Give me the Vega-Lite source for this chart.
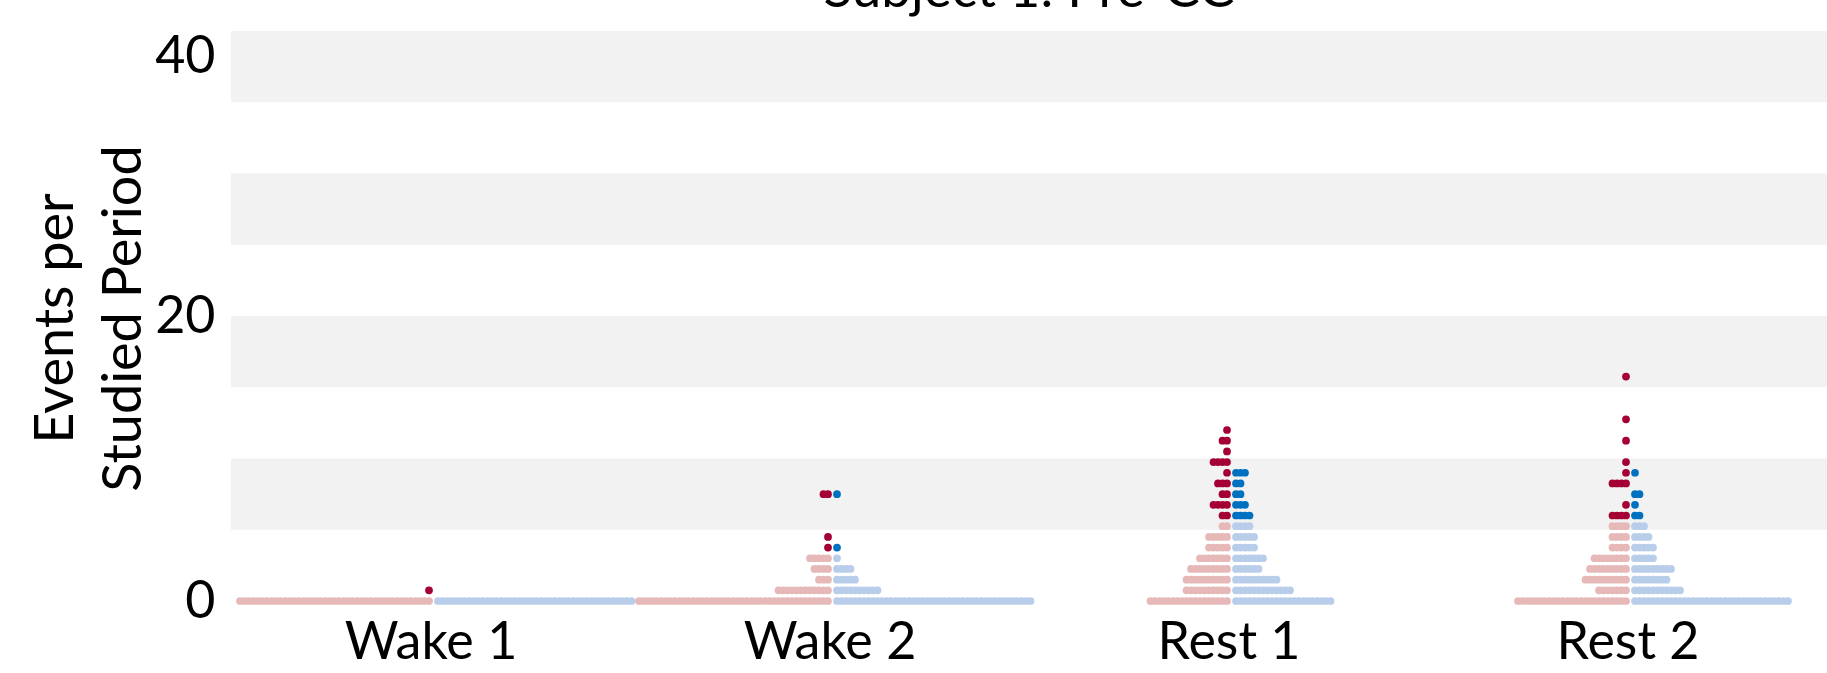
{
"$schema": "https://vega.github.io/schema/vega-lite/v6.json",
"width": 1596, "height": 570,
"autosize": {"type": "none"},
"padding": {"left": 231, "top": 31, "right": 0, "bottom": 72},
"background": "white",
"config": {"view": {"stroke": null}, "font": "Lato",
"axisX": {"domain": false, "ticks": false, "grid": false, "labelAngle": 0, "labelFont": "Lato", "labelFontSize": 52, "labelColor": "black", "labelPadding": 16, "title": null},
"axisY": {"domain": false, "ticks": false, "grid": false, "labelFont": "Lato", "labelFontSize": 52, "labelColor": "black", "labelPadding": 16}},
"title": {"text": "Subject 1: Pre-CC", "font": "Lato", "fontSize": 53, "fontWeight": "normal", "color": "black", "baseline": "alphabetic", "offset": 0, "dy": 30, "anchor": "middle", "frame": "group"},
"datasets": {
"left": [
{"c":"Wake 1","v":0},{"c":"Wake 1","v":0},{"c":"Wake 1","v":0},{"c":"Wake 1","v":0},{"c":"Wake 1","v":0},{"c":"Wake 1","v":0},{"c":"Wake 1","v":0},{"c":"Wake 1","v":0},{"c":"Wake 1","v":0},{"c":"Wake 1","v":0},
{"c":"Wake 1","v":0},{"c":"Wake 1","v":0},{"c":"Wake 1","v":0},{"c":"Wake 1","v":0},{"c":"Wake 1","v":0},{"c":"Wake 1","v":0},{"c":"Wake 1","v":0},{"c":"Wake 1","v":0},{"c":"Wake 1","v":0},{"c":"Wake 1","v":0},
{"c":"Wake 1","v":0},{"c":"Wake 1","v":0},{"c":"Wake 1","v":0},{"c":"Wake 1","v":0},{"c":"Wake 1","v":0},{"c":"Wake 1","v":0},{"c":"Wake 1","v":0},{"c":"Wake 1","v":0},{"c":"Wake 1","v":0},{"c":"Wake 1","v":0},
{"c":"Wake 1","v":0},{"c":"Wake 1","v":0},{"c":"Wake 1","v":0},{"c":"Wake 1","v":0},{"c":"Wake 1","v":0},{"c":"Wake 1","v":0},{"c":"Wake 1","v":0},{"c":"Wake 1","v":0},{"c":"Wake 1","v":0},{"c":"Wake 1","v":0},
{"c":"Wake 1","v":0},{"c":"Wake 1","v":0},{"c":"Wake 1","v":0},
{"c":"Wake 1","v":0.75,"t":1},
{"c":"Wake 2","v":0},{"c":"Wake 2","v":0},{"c":"Wake 2","v":0},{"c":"Wake 2","v":0},{"c":"Wake 2","v":0},{"c":"Wake 2","v":0},{"c":"Wake 2","v":0},{"c":"Wake 2","v":0},{"c":"Wake 2","v":0},{"c":"Wake 2","v":0},
{"c":"Wake 2","v":0},{"c":"Wake 2","v":0},{"c":"Wake 2","v":0},{"c":"Wake 2","v":0},{"c":"Wake 2","v":0},{"c":"Wake 2","v":0},{"c":"Wake 2","v":0},{"c":"Wake 2","v":0},{"c":"Wake 2","v":0},{"c":"Wake 2","v":0},
{"c":"Wake 2","v":0},{"c":"Wake 2","v":0},{"c":"Wake 2","v":0},{"c":"Wake 2","v":0},{"c":"Wake 2","v":0},{"c":"Wake 2","v":0},{"c":"Wake 2","v":0},{"c":"Wake 2","v":0},{"c":"Wake 2","v":0},{"c":"Wake 2","v":0},
{"c":"Wake 2","v":0},{"c":"Wake 2","v":0},{"c":"Wake 2","v":0},{"c":"Wake 2","v":0},{"c":"Wake 2","v":0},{"c":"Wake 2","v":0},{"c":"Wake 2","v":0},{"c":"Wake 2","v":0},{"c":"Wake 2","v":0},{"c":"Wake 2","v":0},
{"c":"Wake 2","v":0},{"c":"Wake 2","v":0},{"c":"Wake 2","v":0},
{"c":"Wake 2","v":0.75},{"c":"Wake 2","v":0.75},{"c":"Wake 2","v":0.75},{"c":"Wake 2","v":0.75},{"c":"Wake 2","v":0.75},{"c":"Wake 2","v":0.75},{"c":"Wake 2","v":0.75},{"c":"Wake 2","v":0.75},{"c":"Wake 2","v":0.75},{"c":"Wake 2","v":0.75},{"c":"Wake 2","v":0.75},{"c":"Wake 2","v":0.75},
{"c":"Wake 2","v":1.5},{"c":"Wake 2","v":1.5},{"c":"Wake 2","v":1.5},
{"c":"Wake 2","v":2.25},{"c":"Wake 2","v":2.25},{"c":"Wake 2","v":2.25},{"c":"Wake 2","v":2.25},
{"c":"Wake 2","v":3},{"c":"Wake 2","v":3},{"c":"Wake 2","v":3},{"c":"Wake 2","v":3},{"c":"Wake 2","v":3},
{"c":"Wake 2","v":3.75,"t":1},{"c":"Wake 2","v":4.5,"t":1},{"c":"Wake 2","v":7.5,"t":1},{"c":"Wake 2","v":7.5,"t":1},
{"c":"Rest 1","v":0},{"c":"Rest 1","v":0},{"c":"Rest 1","v":0},{"c":"Rest 1","v":0},{"c":"Rest 1","v":0},{"c":"Rest 1","v":0},{"c":"Rest 1","v":0},{"c":"Rest 1","v":0},{"c":"Rest 1","v":0},{"c":"Rest 1","v":0},
{"c":"Rest 1","v":0},{"c":"Rest 1","v":0},{"c":"Rest 1","v":0},{"c":"Rest 1","v":0},{"c":"Rest 1","v":0},{"c":"Rest 1","v":0},{"c":"Rest 1","v":0},{"c":"Rest 1","v":0},
{"c":"Rest 1","v":0.75},{"c":"Rest 1","v":0.75},{"c":"Rest 1","v":0.75},{"c":"Rest 1","v":0.75},{"c":"Rest 1","v":0.75},{"c":"Rest 1","v":0.75},{"c":"Rest 1","v":0.75},{"c":"Rest 1","v":0.75},{"c":"Rest 1","v":0.75},{"c":"Rest 1","v":0.75},
{"c":"Rest 1","v":1.5},{"c":"Rest 1","v":1.5},{"c":"Rest 1","v":1.5},{"c":"Rest 1","v":1.5},{"c":"Rest 1","v":1.5},{"c":"Rest 1","v":1.5},{"c":"Rest 1","v":1.5},{"c":"Rest 1","v":1.5},{"c":"Rest 1","v":1.5},{"c":"Rest 1","v":1.5},
{"c":"Rest 1","v":2.25},{"c":"Rest 1","v":2.25},{"c":"Rest 1","v":2.25},{"c":"Rest 1","v":2.25},{"c":"Rest 1","v":2.25},{"c":"Rest 1","v":2.25},{"c":"Rest 1","v":2.25},{"c":"Rest 1","v":2.25},{"c":"Rest 1","v":2.25},
{"c":"Rest 1","v":3},{"c":"Rest 1","v":3},{"c":"Rest 1","v":3},{"c":"Rest 1","v":3},{"c":"Rest 1","v":3},{"c":"Rest 1","v":3},{"c":"Rest 1","v":3},
{"c":"Rest 1","v":3.75},{"c":"Rest 1","v":3.75},{"c":"Rest 1","v":3.75},{"c":"Rest 1","v":3.75},{"c":"Rest 1","v":3.75},
{"c":"Rest 1","v":4.5},{"c":"Rest 1","v":4.5},{"c":"Rest 1","v":4.5},{"c":"Rest 1","v":4.5},{"c":"Rest 1","v":4.5},
{"c":"Rest 1","v":5.25},{"c":"Rest 1","v":5.25},
{"c":"Rest 1","v":6,"t":1},{"c":"Rest 1","v":6,"t":1},
{"c":"Rest 1","v":6.75,"t":1},{"c":"Rest 1","v":6.75,"t":1},{"c":"Rest 1","v":6.75,"t":1},{"c":"Rest 1","v":6.75,"t":1},
{"c":"Rest 1","v":7.5,"t":1},{"c":"Rest 1","v":7.5,"t":1},
{"c":"Rest 1","v":8.25,"t":1},{"c":"Rest 1","v":8.25,"t":1},{"c":"Rest 1","v":8.25,"t":1},
{"c":"Rest 1","v":9,"t":1},
{"c":"Rest 1","v":9.75,"t":1},{"c":"Rest 1","v":9.75,"t":1},{"c":"Rest 1","v":9.75,"t":1},{"c":"Rest 1","v":9.75,"t":1},
{"c":"Rest 1","v":10.5,"t":1},
{"c":"Rest 1","v":11.25,"t":1},{"c":"Rest 1","v":11.25,"t":1},
{"c":"Rest 1","v":12,"t":1},
{"c":"Rest 2","v":0},{"c":"Rest 2","v":0},{"c":"Rest 2","v":0},{"c":"Rest 2","v":0},{"c":"Rest 2","v":0},{"c":"Rest 2","v":0},{"c":"Rest 2","v":0},{"c":"Rest 2","v":0},{"c":"Rest 2","v":0},{"c":"Rest 2","v":0},
{"c":"Rest 2","v":0},{"c":"Rest 2","v":0},{"c":"Rest 2","v":0},{"c":"Rest 2","v":0},{"c":"Rest 2","v":0},{"c":"Rest 2","v":0},{"c":"Rest 2","v":0},{"c":"Rest 2","v":0},{"c":"Rest 2","v":0},{"c":"Rest 2","v":0},
{"c":"Rest 2","v":0},{"c":"Rest 2","v":0},{"c":"Rest 2","v":0},{"c":"Rest 2","v":0},{"c":"Rest 2","v":0},
{"c":"Rest 2","v":0.75},{"c":"Rest 2","v":0.75},{"c":"Rest 2","v":0.75},{"c":"Rest 2","v":0.75},{"c":"Rest 2","v":0.75},{"c":"Rest 2","v":0.75},{"c":"Rest 2","v":0.75},
{"c":"Rest 2","v":1.5},{"c":"Rest 2","v":1.5},{"c":"Rest 2","v":1.5},{"c":"Rest 2","v":1.5},{"c":"Rest 2","v":1.5},{"c":"Rest 2","v":1.5},{"c":"Rest 2","v":1.5},{"c":"Rest 2","v":1.5},{"c":"Rest 2","v":1.5},{"c":"Rest 2","v":1.5},
{"c":"Rest 2","v":2.25},{"c":"Rest 2","v":2.25},{"c":"Rest 2","v":2.25},{"c":"Rest 2","v":2.25},{"c":"Rest 2","v":2.25},{"c":"Rest 2","v":2.25},{"c":"Rest 2","v":2.25},{"c":"Rest 2","v":2.25},{"c":"Rest 2","v":2.25},
{"c":"Rest 2","v":3},{"c":"Rest 2","v":3},{"c":"Rest 2","v":3},{"c":"Rest 2","v":3},{"c":"Rest 2","v":3},{"c":"Rest 2","v":3},{"c":"Rest 2","v":3},{"c":"Rest 2","v":3},
{"c":"Rest 2","v":3.75},{"c":"Rest 2","v":3.75},{"c":"Rest 2","v":3.75},{"c":"Rest 2","v":3.75},
{"c":"Rest 2","v":4.5},{"c":"Rest 2","v":4.5},{"c":"Rest 2","v":4.5},{"c":"Rest 2","v":4.5},
{"c":"Rest 2","v":5.25},{"c":"Rest 2","v":5.25},{"c":"Rest 2","v":5.25},{"c":"Rest 2","v":5.25},
{"c":"Rest 2","v":6,"t":1},{"c":"Rest 2","v":6,"t":1},{"c":"Rest 2","v":6,"t":1},{"c":"Rest 2","v":6,"t":1},
{"c":"Rest 2","v":6.75,"t":1},
{"c":"Rest 2","v":8.25,"t":1},{"c":"Rest 2","v":8.25,"t":1},{"c":"Rest 2","v":8.25,"t":1},{"c":"Rest 2","v":8.25,"t":1},
{"c":"Rest 2","v":9,"t":1},{"c":"Rest 2","v":9.75,"t":1},{"c":"Rest 2","v":11.25,"t":1},{"c":"Rest 2","v":12.75,"t":1},{"c":"Rest 2","v":15.75,"t":1}
],
"right": [
{"c":"Wake 1","v":0},{"c":"Wake 1","v":0},{"c":"Wake 1","v":0},{"c":"Wake 1","v":0},{"c":"Wake 1","v":0},{"c":"Wake 1","v":0},{"c":"Wake 1","v":0},{"c":"Wake 1","v":0},{"c":"Wake 1","v":0},{"c":"Wake 1","v":0},
{"c":"Wake 1","v":0},{"c":"Wake 1","v":0},{"c":"Wake 1","v":0},{"c":"Wake 1","v":0},{"c":"Wake 1","v":0},{"c":"Wake 1","v":0},{"c":"Wake 1","v":0},{"c":"Wake 1","v":0},{"c":"Wake 1","v":0},{"c":"Wake 1","v":0},
{"c":"Wake 1","v":0},{"c":"Wake 1","v":0},{"c":"Wake 1","v":0},{"c":"Wake 1","v":0},{"c":"Wake 1","v":0},{"c":"Wake 1","v":0},{"c":"Wake 1","v":0},{"c":"Wake 1","v":0},{"c":"Wake 1","v":0},{"c":"Wake 1","v":0},
{"c":"Wake 1","v":0},{"c":"Wake 1","v":0},{"c":"Wake 1","v":0},{"c":"Wake 1","v":0},{"c":"Wake 1","v":0},{"c":"Wake 1","v":0},{"c":"Wake 1","v":0},{"c":"Wake 1","v":0},{"c":"Wake 1","v":0},{"c":"Wake 1","v":0},
{"c":"Wake 1","v":0},{"c":"Wake 1","v":0},{"c":"Wake 1","v":0},{"c":"Wake 1","v":0},
{"c":"Wake 2","v":0},{"c":"Wake 2","v":0},{"c":"Wake 2","v":0},{"c":"Wake 2","v":0},{"c":"Wake 2","v":0},{"c":"Wake 2","v":0},{"c":"Wake 2","v":0},{"c":"Wake 2","v":0},{"c":"Wake 2","v":0},{"c":"Wake 2","v":0},
{"c":"Wake 2","v":0},{"c":"Wake 2","v":0},{"c":"Wake 2","v":0},{"c":"Wake 2","v":0},{"c":"Wake 2","v":0},{"c":"Wake 2","v":0},{"c":"Wake 2","v":0},{"c":"Wake 2","v":0},{"c":"Wake 2","v":0},{"c":"Wake 2","v":0},
{"c":"Wake 2","v":0},{"c":"Wake 2","v":0},{"c":"Wake 2","v":0},{"c":"Wake 2","v":0},{"c":"Wake 2","v":0},{"c":"Wake 2","v":0},{"c":"Wake 2","v":0},{"c":"Wake 2","v":0},{"c":"Wake 2","v":0},{"c":"Wake 2","v":0},
{"c":"Wake 2","v":0},{"c":"Wake 2","v":0},{"c":"Wake 2","v":0},{"c":"Wake 2","v":0},{"c":"Wake 2","v":0},{"c":"Wake 2","v":0},{"c":"Wake 2","v":0},{"c":"Wake 2","v":0},{"c":"Wake 2","v":0},{"c":"Wake 2","v":0},
{"c":"Wake 2","v":0},{"c":"Wake 2","v":0},{"c":"Wake 2","v":0},{"c":"Wake 2","v":0},
{"c":"Wake 2","v":0.75},{"c":"Wake 2","v":0.75},{"c":"Wake 2","v":0.75},{"c":"Wake 2","v":0.75},{"c":"Wake 2","v":0.75},{"c":"Wake 2","v":0.75},{"c":"Wake 2","v":0.75},{"c":"Wake 2","v":0.75},{"c":"Wake 2","v":0.75},{"c":"Wake 2","v":0.75},
{"c":"Wake 2","v":1.5},{"c":"Wake 2","v":1.5},{"c":"Wake 2","v":1.5},{"c":"Wake 2","v":1.5},{"c":"Wake 2","v":1.5},
{"c":"Wake 2","v":2.25},{"c":"Wake 2","v":2.25},{"c":"Wake 2","v":2.25},{"c":"Wake 2","v":2.25},
{"c":"Wake 2","v":3},
{"c":"Wake 2","v":3.75,"t":1},{"c":"Wake 2","v":7.5,"t":1},
{"c":"Rest 1","v":0},{"c":"Rest 1","v":0},{"c":"Rest 1","v":0},{"c":"Rest 1","v":0},{"c":"Rest 1","v":0},{"c":"Rest 1","v":0},{"c":"Rest 1","v":0},{"c":"Rest 1","v":0},{"c":"Rest 1","v":0},{"c":"Rest 1","v":0},
{"c":"Rest 1","v":0},{"c":"Rest 1","v":0},{"c":"Rest 1","v":0},{"c":"Rest 1","v":0},{"c":"Rest 1","v":0},{"c":"Rest 1","v":0},{"c":"Rest 1","v":0},{"c":"Rest 1","v":0},{"c":"Rest 1","v":0},{"c":"Rest 1","v":0},
{"c":"Rest 1","v":0},{"c":"Rest 1","v":0},
{"c":"Rest 1","v":0.75},{"c":"Rest 1","v":0.75},{"c":"Rest 1","v":0.75},{"c":"Rest 1","v":0.75},{"c":"Rest 1","v":0.75},{"c":"Rest 1","v":0.75},{"c":"Rest 1","v":0.75},{"c":"Rest 1","v":0.75},{"c":"Rest 1","v":0.75},{"c":"Rest 1","v":0.75},{"c":"Rest 1","v":0.75},{"c":"Rest 1","v":0.75},{"c":"Rest 1","v":0.75},
{"c":"Rest 1","v":1.5},{"c":"Rest 1","v":1.5},{"c":"Rest 1","v":1.5},{"c":"Rest 1","v":1.5},{"c":"Rest 1","v":1.5},{"c":"Rest 1","v":1.5},{"c":"Rest 1","v":1.5},{"c":"Rest 1","v":1.5},{"c":"Rest 1","v":1.5},{"c":"Rest 1","v":1.5},
{"c":"Rest 1","v":2.25},{"c":"Rest 1","v":2.25},{"c":"Rest 1","v":2.25},{"c":"Rest 1","v":2.25},{"c":"Rest 1","v":2.25},{"c":"Rest 1","v":2.25},
{"c":"Rest 1","v":3},{"c":"Rest 1","v":3},{"c":"Rest 1","v":3},{"c":"Rest 1","v":3},{"c":"Rest 1","v":3},{"c":"Rest 1","v":3},{"c":"Rest 1","v":3},
{"c":"Rest 1","v":3.75},{"c":"Rest 1","v":3.75},{"c":"Rest 1","v":3.75},{"c":"Rest 1","v":3.75},{"c":"Rest 1","v":3.75},
{"c":"Rest 1","v":4.5},{"c":"Rest 1","v":4.5},{"c":"Rest 1","v":4.5},{"c":"Rest 1","v":4.5},{"c":"Rest 1","v":4.5},
{"c":"Rest 1","v":5.25},{"c":"Rest 1","v":5.25},{"c":"Rest 1","v":5.25},{"c":"Rest 1","v":5.25},
{"c":"Rest 1","v":6,"t":1},{"c":"Rest 1","v":6,"t":1},{"c":"Rest 1","v":6,"t":1},{"c":"Rest 1","v":6,"t":1},
{"c":"Rest 1","v":6.75,"t":1},{"c":"Rest 1","v":6.75,"t":1},{"c":"Rest 1","v":6.75,"t":1},
{"c":"Rest 1","v":7.5,"t":1},{"c":"Rest 1","v":7.5,"t":1},
{"c":"Rest 1","v":8.25,"t":1},{"c":"Rest 1","v":8.25,"t":1},
{"c":"Rest 1","v":9,"t":1},{"c":"Rest 1","v":9,"t":1},{"c":"Rest 1","v":9,"t":1},
{"c":"Rest 2","v":0},{"c":"Rest 2","v":0},{"c":"Rest 2","v":0},{"c":"Rest 2","v":0},{"c":"Rest 2","v":0},{"c":"Rest 2","v":0},{"c":"Rest 2","v":0},{"c":"Rest 2","v":0},{"c":"Rest 2","v":0},{"c":"Rest 2","v":0},
{"c":"Rest 2","v":0},{"c":"Rest 2","v":0},{"c":"Rest 2","v":0},{"c":"Rest 2","v":0},{"c":"Rest 2","v":0},{"c":"Rest 2","v":0},{"c":"Rest 2","v":0},{"c":"Rest 2","v":0},{"c":"Rest 2","v":0},{"c":"Rest 2","v":0},
{"c":"Rest 2","v":0},{"c":"Rest 2","v":0},{"c":"Rest 2","v":0},{"c":"Rest 2","v":0},{"c":"Rest 2","v":0},{"c":"Rest 2","v":0},{"c":"Rest 2","v":0},{"c":"Rest 2","v":0},{"c":"Rest 2","v":0},{"c":"Rest 2","v":0},
{"c":"Rest 2","v":0},{"c":"Rest 2","v":0},{"c":"Rest 2","v":0},{"c":"Rest 2","v":0},{"c":"Rest 2","v":0},
{"c":"Rest 2","v":0.75},{"c":"Rest 2","v":0.75},{"c":"Rest 2","v":0.75},{"c":"Rest 2","v":0.75},{"c":"Rest 2","v":0.75},{"c":"Rest 2","v":0.75},{"c":"Rest 2","v":0.75},{"c":"Rest 2","v":0.75},{"c":"Rest 2","v":0.75},{"c":"Rest 2","v":0.75},{"c":"Rest 2","v":0.75},
{"c":"Rest 2","v":1.5},{"c":"Rest 2","v":1.5},{"c":"Rest 2","v":1.5},{"c":"Rest 2","v":1.5},{"c":"Rest 2","v":1.5},{"c":"Rest 2","v":1.5},{"c":"Rest 2","v":1.5},{"c":"Rest 2","v":1.5},
{"c":"Rest 2","v":2.25},{"c":"Rest 2","v":2.25},{"c":"Rest 2","v":2.25},{"c":"Rest 2","v":2.25},{"c":"Rest 2","v":2.25},{"c":"Rest 2","v":2.25},{"c":"Rest 2","v":2.25},{"c":"Rest 2","v":2.25},{"c":"Rest 2","v":2.25},
{"c":"Rest 2","v":3},{"c":"Rest 2","v":3},{"c":"Rest 2","v":3},{"c":"Rest 2","v":3},{"c":"Rest 2","v":3},
{"c":"Rest 2","v":3.75},{"c":"Rest 2","v":3.75},{"c":"Rest 2","v":3.75},{"c":"Rest 2","v":3.75},{"c":"Rest 2","v":3.75},
{"c":"Rest 2","v":4.5},{"c":"Rest 2","v":4.5},{"c":"Rest 2","v":4.5},{"c":"Rest 2","v":4.5},
{"c":"Rest 2","v":5.25},{"c":"Rest 2","v":5.25},{"c":"Rest 2","v":5.25},
{"c":"Rest 2","v":6,"t":1},{"c":"Rest 2","v":6,"t":1},
{"c":"Rest 2","v":6.75,"t":1},
{"c":"Rest 2","v":7.5,"t":1},{"c":"Rest 2","v":7.5,"t":1},
{"c":"Rest 2","v":9,"t":1}
]
},
"layer": [
{
"data": {"values": [{"lo": 5, "hi": 10}, {"lo": 15, "hi": 20}, {"lo": 25, "hi": 30}, {"lo": 35, "hi": 40}]},
"mark": {"type": "rect", "color": "#f2f2f2"},
"encoding": {
"y": {"field": "lo", "type": "quantitative", "scale": {"domain": [0, 40], "nice": false},
"axis": {"values": [0, 20, 40],
"labelBaseline": {"condition": {"test": "datum.value == 40", "value": "top"}, "value": "middle"},
"title": ["Events per", "Studied Period"], "titleFont": "Lato", "titleFontSize": 54, "titleFontWeight": "normal", "titleColor": "black",
"titleAngle": -90, "titleBaseline": "alphabetic", "titleAlign": "center", "titleX": -159, "titleY": 287, "titleLineHeight": 68}},
"y2": {"field": "hi"}
}
},
{
"data": {"name": "left"},
"transform": [{"window": [{"op": "row_number", "as": "r"}], "groupby": ["c", "v"]}],
"mark": {"type": "circle", "size": 60, "opacity": 1},
"encoding": {
"x": {"field": "c", "type": "nominal", "title": null, "scale": {"type": "point", "domain": ["Wake 1", "Wake 2", "Rest 1", "Rest 2"], "padding": 0.5}},
"xOffset": {"field": "r", "type": "quantitative", "scale": {"domain": [0, 100], "range": [3, -447], "nice": false, "zero": false}},
"y": {"field": "v", "type": "quantitative", "title": ["Events per", "Studied Period"]},
"color": {"condition": {"test": "datum.t == 1", "value": "#a50034"}, "value": "#e6b9b8"}
}
},
{
"data": {"name": "right"},
"transform": [{"window": [{"op": "row_number", "as": "r"}], "groupby": ["c", "v"]}],
"mark": {"type": "circle", "size": 60, "opacity": 1},
"encoding": {
"x": {"field": "c", "type": "nominal", "title": null, "scale": {"type": "point", "domain": ["Wake 1", "Wake 2", "Rest 1", "Rest 2"], "padding": 0.5}},
"xOffset": {"field": "r", "type": "quantitative", "scale": {"domain": [0, 100], "range": [3, 453], "nice": false, "zero": false}},
"y": {"field": "v", "type": "quantitative", "title": ["Events per", "Studied Period"]},
"color": {"condition": {"test": "datum.t == 1", "value": "#0070c0"}, "value": "#b8cde9"}
}
}
],
"resolve": {"scale": {"xOffset": "independent"}}
}
